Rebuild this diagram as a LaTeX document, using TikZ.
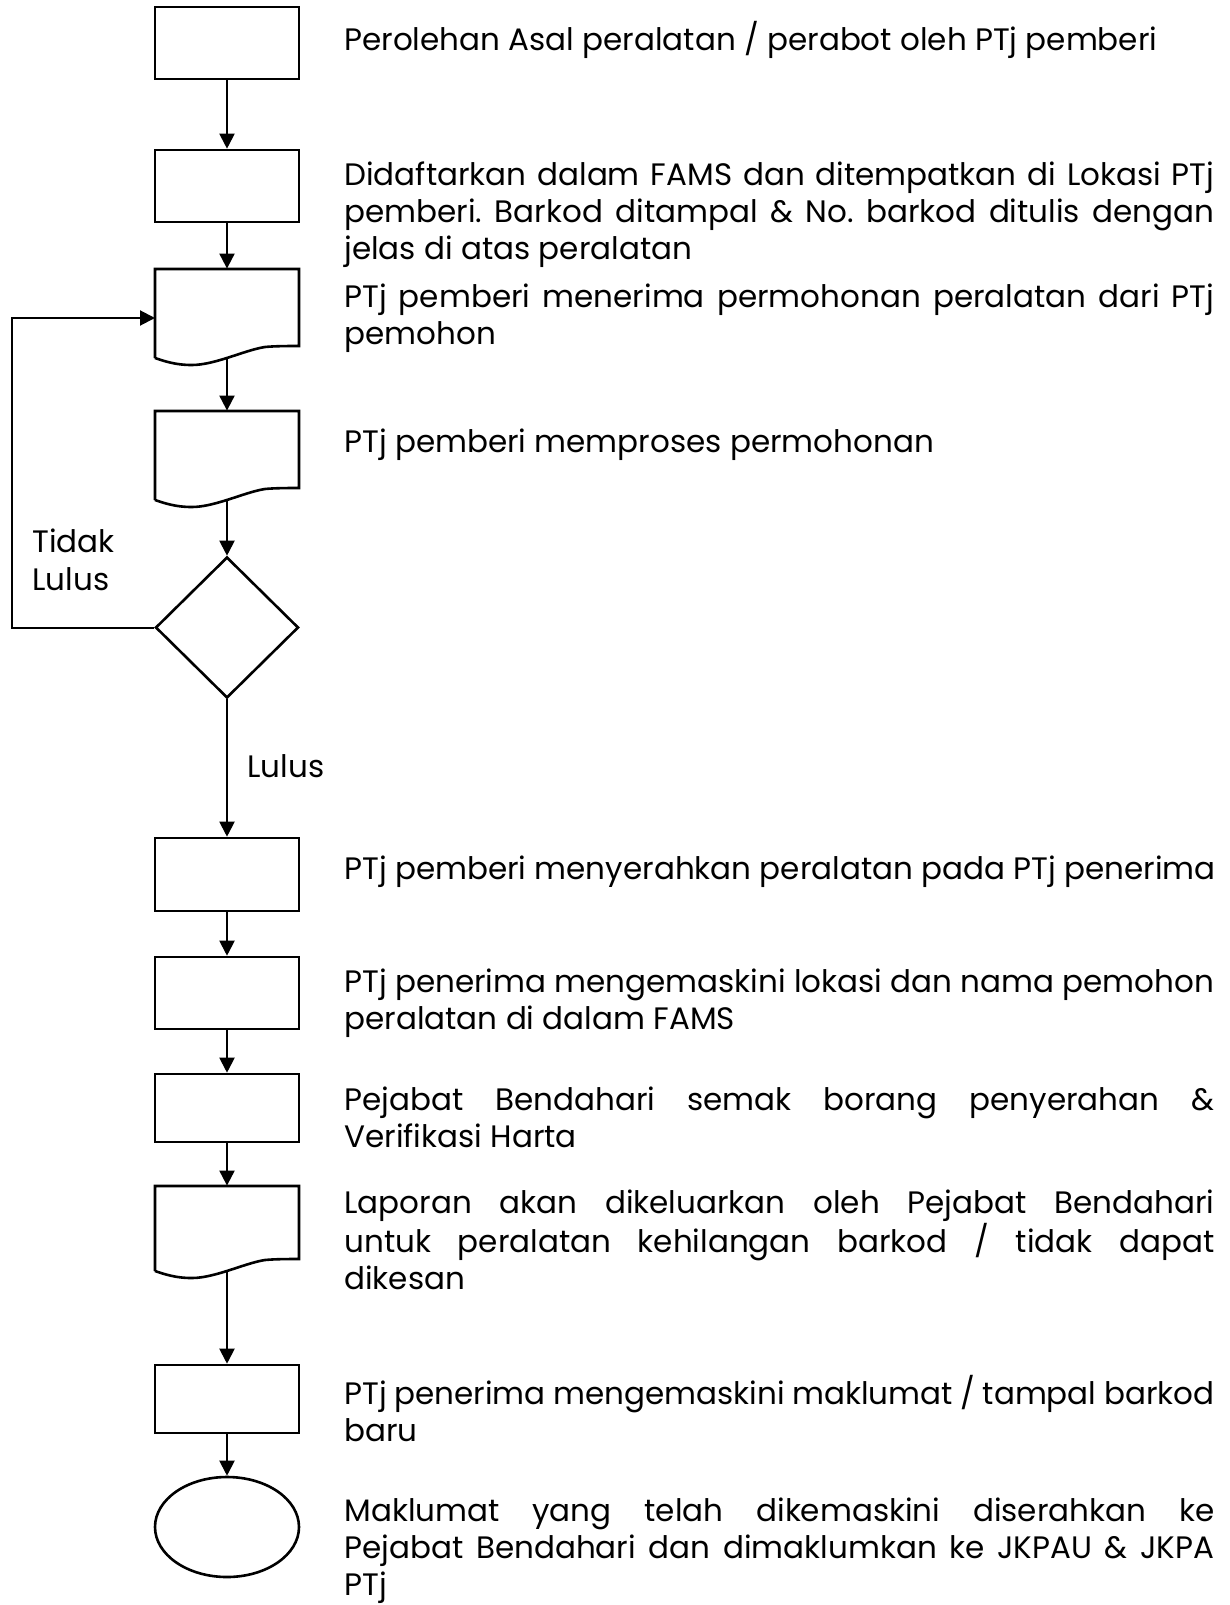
\documentclass[tikz,border=0pt]{standalone}
\usepackage{fontspec}
\setmainfont{Poppins}
\usetikzlibrary{arrows.meta,shapes.geometric}
\frenchspacing
\newcommand{\jl}[1]{\makebox[435pt][s]{#1}}
\newcommand{\ptxt}[2]{\parbox[t]{#1}{\fontsize{15.5}{18.5}\selectfont\parindent0pt #2}}
\newcommand{\docshape}[2]{%
  \draw[shapeline] (155,#2+12) -- (155,#1) -- (299,#1) -- (299,#2)
    .. controls (290,#2) and (275,#2) .. (265,#2+1)
    .. controls (245,#2+4) and (215,#2+19) .. (192,#2+19)
    .. controls (182,#2+19) and (172,#2+18) .. (155,#2+12);}
\begin{document}
\begin{tikzpicture}[x=0.5pt,y=-0.5pt,
  shapeline/.style={line width=1.3pt, line join=miter},
  procbox/.style={shapeline, draw, rectangle, inner sep=0pt, minimum width=72pt},
  docnode/.style={rectangle, inner sep=0pt, minimum width=72pt},
  arr/.style={line width=1pt, -{Triangle[length=7.5pt,width=7.5pt]}},
  txt/.style={anchor=base west, inner sep=0pt, font=\fontsize{15.5}{18.5}\selectfont}]
\useasboundingbox (0,0) rectangle (1230,1605);

% shapes
\node[procbox, minimum height=36pt] (b1) at (227,43) {};
\node[procbox, minimum height=36pt] (b2) at (227,186) {};
\node[docnode, minimum height=38.5pt] (b3) at (227,307.5) {};
\docshape{269}{346}
\coordinate (b3w) at (227,358);
\node[docnode, minimum height=38.5pt] (b4) at (227,449.5) {};
\docshape{411}{488}
\coordinate (b4w) at (227,500);
\node[shapeline, draw, diamond, inner sep=0pt, minimum width=71.5pt, minimum height=70.5pt] (d) at (227,627.5) {};
\node[procbox, minimum height=36.5pt] (b5) at (227,874.5) {};
\node[procbox, minimum height=36pt] (b6) at (227,993) {};
\node[procbox, minimum height=34pt] (b7) at (227,1108) {};
\node[docnode, minimum height=36.5pt] (b8) at (227,1222.5) {};
\docshape{1186}{1259}
\coordinate (b8w) at (227,1271);
\node[procbox, minimum height=34pt] (b9) at (227,1399) {};
\node[shapeline, draw, ellipse, inner sep=0pt, minimum width=72pt, minimum height=50pt] (e) at (227,1527) {};

% connectors
\draw[arr] (b1.south) -- (b2.north);
\draw[arr] (b2.south) -- (b3.north);
\draw[arr] (b3w) -- (b4.north);
\draw[arr] (b4w) -- (d.north);
\coordinate (lpa) at (12,627.5);
\coordinate (lpb) at (12,318);
\coordinate (lpc) at (155,318);
\draw[arr] (d.west) -- (lpa) -- (lpb) -- (lpc);
\draw[arr] (d.south) -- (b5.north);
\draw[arr] (b5.south) -- (b6.north);
\draw[arr] (b6.south) -- (b7.north);
\draw[arr] (b7.south) -- (b8.north);
\draw[arr] (b8w) -- (b9.north);
\draw[arr] (b9.south) -- (e.north);

% labels
\node[txt] (tl1) at (32,552) {\ptxt{100pt}{\fontsize{15.5}{19}\selectfont Tidak\\Lulus}};
\node[txt] (tl2) at (247,777) {Lulus};

% texts
\node[txt] (t1) at (344,51) {Perolehan Asal peralatan / perabot oleh PTj pemberi};
\node[txt] (t2) at (344,186) {\ptxt{435pt}{\jl{Didaftarkan dalam FAMS dan ditempatkan di Lokasi PTj}\\\jl{pemberi. Barkod ditampal \& No. barkod ditulis dengan}\\jelas di atas peralatan}};
\node[txt] (t3) at (344,307) {\ptxt{435pt}{\jl{PTj pemberi menerima permohonan peralatan dari PTj}\\pemohon}};
\node[txt] (t4) at (344,452) {PTj pemberi memproses permohonan};
\node[txt] (t5) at (344,879) {PTj pemberi menyerahkan peralatan pada PTj penerima};
\node[txt] (t6) at (344,992) {\ptxt{435pt}{PTj penerima mengemaskini lokasi dan nama pemohon\\peralatan di dalam FAMS}};
\node[txt] (t7) at (344,1110) {\ptxt{435pt}{\jl{Pejabat Bendahari semak borang penyerahan \&}\\Verifikasi Harta}};
\node[txt] (t8) at (344,1213) {\ptxt{435pt}{\jl{Laporan akan dikeluarkan oleh Pejabat Bendahari}\\\jl{untuk peralatan kehilangan barkod / tidak dapat}\\dikesan}};
\node[txt] (t9) at (344,1404) {\ptxt{435pt}{\jl{PTj penerima mengemaskini maklumat / tampal barkod}\\baru}};
\node[txt] (t10) at (344,1521) {\ptxt{435pt}{\jl{Maklumat yang telah dikemaskini diserahkan ke}\\\jl{Pejabat Bendahari dan dimaklumkan ke JKPAU \& JKPA}\\PTj}};
\end{tikzpicture}
\end{document}
